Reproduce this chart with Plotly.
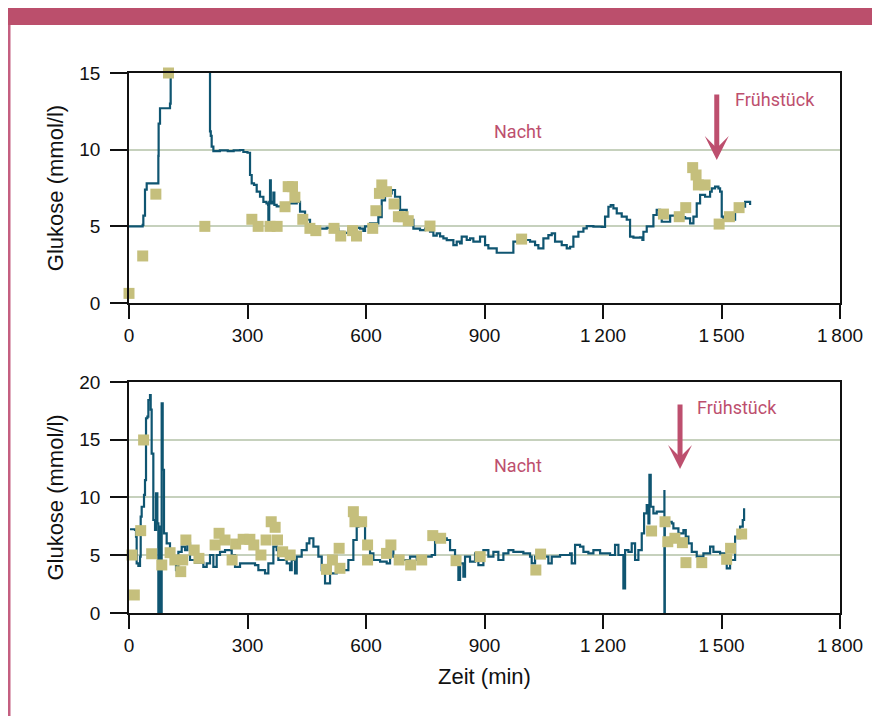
import plotly.graph_objects as go

# ---------------- data ----------------
top_cgm_t = [0, 34.6, 36.3, 40.5, 44.8, 70.1, 74.3, 75, 78.5, 102.2, 103.8, 105.5, 107, 202, 203.4, 205.1, 207,
             209.3, 213.6, 230, 250, 265, 281, 289.5, 300, 306.4, 310.6, 316.5, 323.3, 331.7, 340.2, 348, 352,
             352.8, 355, 357, 359, 363, 365.5, 368, 373.9, 386.6, 390.8, 399.2, 411.9, 424.6, 433, 445.7, 458.3,
             471, 483.6, 500.5, 517.4, 530, 542.7, 555.4, 568, 584.9, 593.4, 597.6, 610.2, 627.1, 631.3, 639.8,
             648.2, 665.1, 673.5, 686.2, 703.1, 720, 736.8, 749.5, 762.1, 770.6, 779, 787.5, 795.9, 804.4, 821.2,
             829.6, 838.1, 842.3, 855, 863.4, 871.8, 888.7, 897.2, 901.4, 909.8, 930.9, 964.7, 973.1, 990, 1015.3,
             1028, 1036.4, 1049.1, 1061.7, 1070.2, 1078.6, 1087.1, 1095.5, 1108.2, 1116.6, 1125, 1137.7, 1150.4,
             1158.8, 1175.7, 1196.8, 1205.2, 1213.7, 1219.6, 1226.3, 1234.8, 1247.4, 1260.1, 1268.5, 1277, 1293.8,
             1299.7, 1302.3, 1310.7, 1327.6, 1336, 1344.5, 1348.7, 1370, 1390, 1407.8, 1420.4, 1428.9, 1437.3,
             1445.8, 1458.4, 1471.1, 1475.3, 1483.7, 1492.2, 1496.4, 1500.6, 1504.8, 1534.4, 1547, 1559.7, 1572.4]
top_cgm_g = [5.0, 5.1, 5.7, 7.4, 7.8, 7.8, 9.6, 11.7, 12.7, 12.7, 13.0, 15.0, 17.0, 17.0, 16.0, 11.2, 10.9,
             10.2, 9.9, 9.95, 9.9, 9.95, 9.98, 9.85, 9.8, 8.35, 7.8, 7.7, 7.26, 6.93, 6.6, 6.5, 6.4,
             5.4, 6.6, 8.0, 6.5, 6.6, 7.2, 6.4, 6.3, 6.28, 6.07, 6.5, 6.5, 6.6, 5.96, 5.43, 4.98,
             4.9, 4.85, 4.9, 4.85, 4.65, 4.57, 4.85, 4.9, 4.85, 4.7, 5.0, 5.2, 5.2, 5.6, 6.7,
             7.15, 7.37, 6.93, 6.07, 5.43, 4.85, 4.75, 4.85, 4.65, 4.4, 4.54, 4.35, 4.22, 4.1, 3.78,
             4.0, 3.89, 4.33, 4.11, 4.22, 4.0, 4.33, 4.33, 3.78, 3.57, 3.28, 3.28, 4.0, 4.11, 4.0,
             3.78, 3.57, 4.22, 4.43, 4.54, 4.0, 4.0, 3.78, 3.57, 3.67, 4.33, 4.65, 4.87,
             5.02, 4.98, 4.96, 5.63, 6.28, 6.39, 6.17, 5.85, 5.63, 5.43, 4.33, 4.26, 4.28,
             4.11, 4.65, 5.0, 5.74, 6.07, 5.85, 5.3, 5.7, 5.6, 5.52, 5.2, 5.63, 6.5,
             7.05, 6.93, 7.26, 7.48, 7.59, 7.48, 7.26, 5.63, 5.43, 6.07, 6.28, 6.6, 6.39]

top_ref_t = [0, 34.7, 68, 100, 192, 311, 327, 357, 375, 395, 403, 414, 420, 440, 458, 473, 519, 536, 566, 576,
             617, 625, 634, 640, 652, 671, 682, 694, 707, 762, 994, 1353, 1393, 1409.5, 1427, 1435.6, 1441.5,
             1458.4, 1494, 1520, 1544.5]
top_ref_g = [0.63, 3.07, 7.1, 15.0, 5.0, 5.46, 5.0, 5.0, 5.0, 6.28, 7.59, 7.59, 6.9, 5.46, 4.87, 4.72, 4.87, 4.37,
             4.72, 4.37, 4.87, 6.02, 7.15, 7.7, 7.26, 6.46, 5.63, 5.63, 5.37, 5.02, 4.17, 5.8, 5.63, 6.22, 8.83,
             8.35, 7.7, 7.7, 5.15, 5.63, 6.22]

bot_cgm_t = [2.6, 15.2, 17.8, 19.4, 23.7, 27.9, 29.6, 32.1, 38, 40.5, 43.1, 46.5, 49, 53.2, 54.9, 57.4, 61.6,
             65.9, 68.4, 71.8, 74.3, 76.8, 80.2, 82.7, 85.3, 88.6, 95.4, 103.8, 112.3, 119, 125, 133.4, 141.8,
             147.7, 154.5, 167.1, 179.8, 188.2, 196.7, 205.1, 213.6, 222, 230.4, 243.1, 251.5, 260, 268.4, 281.1,
             298, 319, 327.5, 344.4, 352.8, 365.5, 373.9, 378.1, 386.6, 399.2, 407.7, 411.9, 420.3, 424.6, 437.2,
             449.9, 456.6, 466.8, 479.4, 487.9, 496.3, 509, 525.8, 547, 555.4, 568, 576.5, 580.7, 595, 597.6,
             610.2, 618.7, 635.6, 652.4, 660.9, 669.3, 686.2, 711.5, 728.4, 749.5, 766.4, 774.8, 787.5, 804.4,
             812.8, 825.4, 833.9, 838.1, 846.5, 850.7, 863.4, 876.1, 884.5, 897.2, 909.8, 922.5, 935.1, 947.8,
             960.5, 973.1, 998.4, 1015.3, 1019.5, 1028, 1049.1, 1061.7, 1070.2, 1091.3, 1116.6, 1120.8, 1129.3,
             1141.9, 1150.4, 1163, 1175.7, 1192.6, 1217.9, 1230.5, 1239, 1251.6, 1255.9, 1264.3, 1272.7, 1281.2,
             1289.6, 1298.1, 1304, 1310.7, 1315, 1317.5, 1320.8, 1327.6, 1336, 1351.2, 1355.5, 1355.5, 1356.5,
             1361.4, 1374, 1378.2, 1390.9, 1403.6, 1409.5, 1416.2, 1424.7, 1437.3, 1454.2, 1471.1, 1479.5,
             1496.4, 1509, 1513.3, 1521.7, 1534.4, 1542.8, 1547, 1553.8, 1557.2]
bot_cgm_g = [7.25, 7.19, 6.62, 4.3, 4.07, 4.88, 8.34, 9.2, 10.22, 11.5, 16.86, 17.0, 18.44, 18.87, 17.6, 13.8, 8.05,
             7.19, 10.36, 7.76, -0.6, 7.47, -0.6, 18.15, 12.4, 6.9, 6.03, 4.88, 4.44, 3.72, 5.3, 5.74, 5.45,
             6.03, 4.59, 4.36, 4.36, 4.0, 4.3, 5.02, 4.0, 5.02, 5.3, 5.45, 5.45, 5.02, 4.0, 4.3,
             4.3, 4.15, 3.72, 3.43, 4.3, 5.74, 5.45, 4.59, 4.59, 4.3, 3.72, 4.59, 3.43, 4.88, 5.45,
             6.03, 6.47, 5.74, 4.88, 3.72, 2.57, 3.43, 3.72, 3.72, 4.59, 6.32, 7.47, 7.9, 7.9, 5.74,
             5.16, 4.59, 4.44, 4.3, 6.03, 4.88, 4.59, 4.88, 4.59, 4.88, 5.02, 6.62, 6.47, 6.32,
             5.45, 4.88, 2.86, 4.3, 3.15, 4.88, 4.44, 5.16, 4.15, 5.45, 4.88, 5.3, 4.59, 5.16,
             5.45, 5.3, 5.16, 4.88, 4.3, 4.88, 4.88, 4.3, 4.88, 5.02, 5.16, 4.3, 5.89,
             5.74, 5.3, 5.16, 5.45, 5.16, 5.02, 5.89, 5.02, 2.14, 5.45, 5.3, 6.03, 4.59,
             5.45, 6.9, 8.63, 9.35, 7.76, 11.95, 9.2, 8.63, 8.77, 8.77, 10.65, -0.3, 8.2,
             7.9, 7.76, 7.33, 6.9, 7.18, 6.62, 6.03, 5.3, 4.88, 5.16, 5.74, 5.3,
             5.16, 5.02, 3.87, 4.59, 6.62, 6.47, 7.47, 8.05, 9.06]

bot_ref_t = [7.6, 13.5, 29.6, 37, 57.4, 83, 104, 116, 131, 136, 144, 165, 177, 218, 228, 243, 261, 270, 289, 306,
             316, 334, 347, 360, 370, 376, 389, 408, 500, 515, 532, 534, 568, 572, 589, 604, 604, 652, 663, 684,
             713, 741, 769, 789, 828, 889, 1030, 1042, 1323, 1357, 1364, 1382, 1401, 1410, 1450, 1513, 1523, 1551]
bot_ref_g = [5.02, 1.56, 7.13, 14.98, 5.13, 4.16, 5.22, 4.59, 3.58, 4.59, 6.32, 5.45, 4.73, 5.89, 6.9, 6.32, 4.59,
             5.97, 6.38, 6.38, 5.89, 5.02, 6.32, 7.9, 7.42, 6.32, 5.3, 5.02, 3.78, 4.59, 5.6, 3.87, 8.77, 7.9,
             7.9, 5.89, 4.59, 5.16, 5.89, 4.59, 4.16, 4.59, 6.7, 6.47, 4.53, 4.88, 3.72, 5.1, 7.1, 7.9, 6.17,
             6.47, 6.09, 4.36, 4.36, 4.65, 5.6, 6.84]

x_tickvals = [0, 300, 600, 900, 1200, 1500, 1800]
x_ticktext = ["0", "300", "600", "900", "1\u2009200", "1\u2009500", "1\u2009800"]
top_y_ticks = [0, 5, 10, 15]
bot_y_ticks = [0, 5, 10, 15, 20]

# ---------------- style ----------------
LINE_C = "#0f5571"
MARK_C = "#c5bf7c"
PINK = "#bd4f6e"
GRID_C = "#c6d1bd"
TICK_FONT = dict(family="Liberation Sans, Arial, sans-serif", size=19, color="#111111")
TITLE_FONT = dict(family="Liberation Sans, Arial, sans-serif", size=22, color="#111111")
ANN_FONT = dict(family="Roboto, Liberation Sans, sans-serif", size=18, color=PINK)

fig = go.Figure()
fig.add_trace(go.Scatter(x=top_cgm_t, y=top_cgm_g, mode="lines",
                         line=dict(color=LINE_C, width=2.2, shape="hv"),
                         xaxis="x", yaxis="y", showlegend=False, hoverinfo="skip"))
fig.add_trace(go.Scatter(x=top_ref_t, y=top_ref_g, mode="markers",
                         marker=dict(symbol="square", size=11, color=MARK_C),
                         cliponaxis=False, xaxis="x", yaxis="y", showlegend=False))
fig.add_trace(go.Scatter(x=bot_cgm_t, y=bot_cgm_g, mode="lines",
                         line=dict(color=LINE_C, width=2.2, shape="hv"),
                         xaxis="x2", yaxis="y2", showlegend=False, hoverinfo="skip"))
fig.add_trace(go.Scatter(x=bot_ref_t, y=bot_ref_g, mode="markers",
                         marker=dict(symbol="square", size=11, color=MARK_C),
                         cliponaxis=False, xaxis="x2", yaxis="y2", showlegend=False))

axis_common = dict(showline=True, linecolor="#111111", linewidth=1.5, mirror=True, zeroline=False,
                   ticks="outside", tickcolor="#111111", tickwidth=1.5, tickfont=TICK_FONT)

# screen offset of the page body is 8 px; plot area on screen: x 129..840, y 73..613
fig.update_layout(
    width=880, height=716,
    paper_bgcolor="white", plot_bgcolor="white",
    margin=dict(l=121, r=48, t=65, b=111),
    xaxis=dict(domain=[0, 1], anchor="y", range=[0, 1800], tickvals=x_tickvals, ticktext=x_ticktext,
               showgrid=False, ticklen=14, ticklabelstandoff=0, **axis_common),
    yaxis=dict(domain=[0.574, 1], anchor="x", range=[0, 15], tickvals=top_y_ticks, showgrid=True,
               gridcolor=GRID_C, gridwidth=1.5, ticklen=17, ticklabelstandoff=6,
               title=dict(text="Glukose (mmol/l)", font=TITLE_FONT, standoff=10), **axis_common),
    xaxis2=dict(domain=[0, 1], anchor="y2", range=[0, 1800], tickvals=x_tickvals, ticktext=x_ticktext,
                showgrid=False, ticklen=14, ticklabelstandoff=0,
                title=dict(text="Zeit (min)", font=TITLE_FONT, standoff=14), **axis_common),
    yaxis2=dict(domain=[0, 0.4278], anchor="x2", range=[0, 20], tickvals=bot_y_ticks, showgrid=True,
                gridcolor=GRID_C, gridwidth=1.5, ticklen=17, ticklabelstandoff=6,
                title=dict(text="Glukose (mmol/l)", font=TITLE_FONT, standoff=10), **axis_common),
)

# annotations
fig.add_annotation(x=985, y=11.2, xref="x", yref="y", text="Nacht", showarrow=False, font=ANN_FONT)
fig.add_annotation(x=1529, y=13.24, xref="x", yref="y", text="Frühstück", showarrow=False,
                   xanchor="left", font=ANN_FONT)
fig.add_annotation(x=1488, y=9.33, xref="x", yref="y", text="", showarrow=True, ax=0, ay=-67,
                   arrowhead=3, arrowwidth=5, arrowsize=0.8, arrowcolor=PINK)
fig.add_annotation(x=985, y=12.73, xref="x2", yref="y2", text="Nacht", showarrow=False, font=ANN_FONT)
fig.add_annotation(x=1433, y=17.75, xref="x2", yref="y2", text="Frühstück", showarrow=False,
                   xanchor="left", font=ANN_FONT)
fig.add_annotation(x=1395, y=12.47, xref="x2", yref="y2", text="", showarrow=True, ax=0, ay=-66,
                   arrowhead=3, arrowwidth=5, arrowsize=0.8, arrowcolor=PINK)

# decorative frame (paper coordinates from screen px: px -> (px-129)/711, py -> (613-py)/540)
fig.add_shape(type="rect", xref="paper", yref="paper", x0=(8 - 129) / 711, x1=(890 - 129) / 711,
              y0=(613 - 25) / 540, y1=(613 - 6) / 540, fillcolor="#bb4f6c", line=dict(width=0), layer="above")
fig.add_shape(type="line", xref="paper", yref="paper", x0=(9 - 129) / 711, x1=(9 - 129) / 711,
              y0=(613 - 730) / 540, y1=(613 - 25) / 540, line=dict(color="#c45f80", width=3))

fig.write_html("out.html")
